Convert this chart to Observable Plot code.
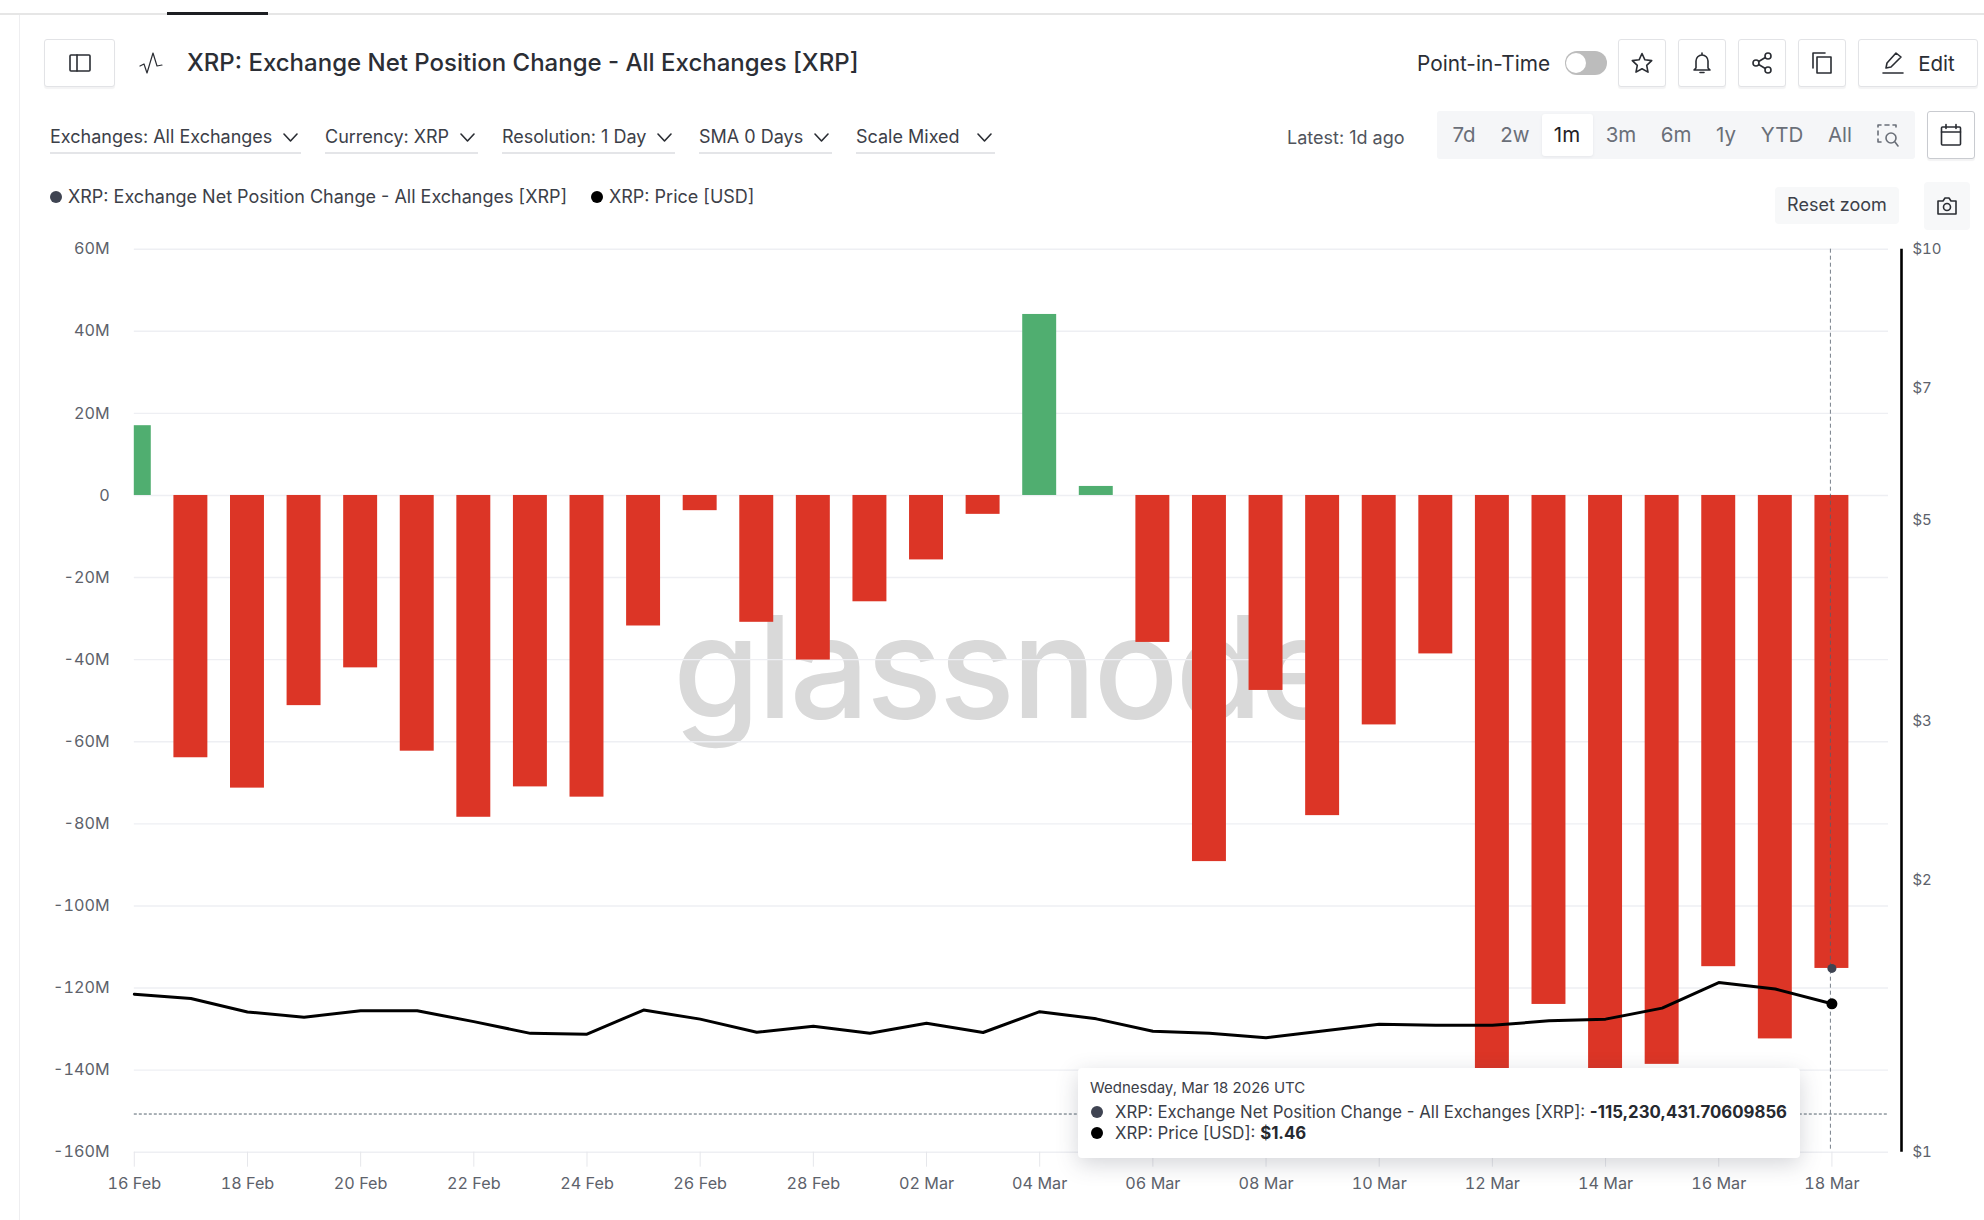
<!DOCTYPE html>
<html><head><meta charset="utf-8">
<script src="https://cdn.jsdelivr.net/npm/d3@7"></script>
<script src="https://cdn.jsdelivr.net/npm/@observablehq/plot@0.6"></script>
<style>
html,body{margin:0;padding:0;background:#fff;width:1984px;height:1220px;overflow:hidden;font-family:Inter,sans-serif;color:#30343b}
.a{position:absolute;white-space:nowrap}
.btn{position:absolute;box-sizing:border-box;border:1px solid #e2e3e6;border-radius:3px;background:#fff;box-shadow:0 2px 1px #f3f3f4;display:flex;align-items:center;justify-content:center}
.dd{position:absolute;top:123px;height:29px;border-bottom:2px solid #e4e5e8;font-size:18px;line-height:28px;color:#3c4048;box-sizing:content-box;white-space:nowrap}
.dd svg{position:absolute;right:3px;top:10px}
.seg{position:absolute;top:122px;font-size:20.5px;line-height:26px;color:#6a6f78;transform:translateX(-50%)}
svg.i{fill:none;stroke:#2a2d33;stroke-width:1.6;stroke-linecap:round;stroke-linejoin:round}
#chart{position:absolute;left:0;top:230px;width:1984px;height:990px;z-index:2}
#chart svg{display:block;background:transparent}
#wm{position:absolute;left:673px;top:582px;font-size:141px;line-height:170px;letter-spacing:-3.2px;color:#d9d9d9;z-index:1;font-family:Inter,sans-serif;font-weight:500}
#tip{position:absolute;left:1078px;top:1068px;width:722px;height:90px;background:#fff;border-radius:4px;box-shadow:0 6px 22px rgba(60,65,80,.22);z-index:3;font-size:16.8px;color:#3c4048}
</style></head><body>
<div class="a" style="left:0;top:13px;width:1984px;height:2px;background:#e6e6e6"></div>
<div class="a" style="left:167px;top:12px;width:101px;height:3px;background:#1c1e22"></div>
<div class="a" style="left:19px;top:15px;width:1px;height:1205px;background:#eeeef0"></div>

<div class="btn" style="left:44px;top:39px;width:71px;height:48px"><svg class="i" width="22" height="18" viewBox="0 0 22 18"><rect x="1" y="1" width="20" height="16" rx="1"/><path d="M8 1v16"/></svg></div>
<svg class="i a" style="left:139px;top:51px;stroke-width:1.2" width="25" height="24" viewBox="0 0 25 24"><path d="M1 15l4-2 3 9 6-20 4 13 5-1"/></svg>
<div class="a" style="left:187px;top:46px;font-size:24px;line-height:34px;font-weight:500;color:#2b2e35">XRP: Exchange Net Position Change - All Exchanges [XRP]</div>

<div class="dd" style="left:50px;width:251px">Exchanges: All Exchanges<svg class="i" width="15" height="9" viewBox="0 0 15 9"><path d="M1 1l6.500 7 6.500-7"/></svg></div>
<div class="dd" style="left:325px;width:153px">Currency: XRP<svg class="i" width="15" height="9" viewBox="0 0 15 9"><path d="M1 1l6.500 7 6.500-7"/></svg></div>
<div class="dd" style="left:502px;width:173px">Resolution: 1 Day<svg class="i" width="15" height="9" viewBox="0 0 15 9"><path d="M1 1l6.500 7 6.500-7"/></svg></div>
<div class="dd" style="left:699px;width:133px">SMA 0 Days<svg class="i" width="15" height="9" viewBox="0 0 15 9"><path d="M1 1l6.500 7 6.500-7"/></svg></div>
<div class="dd" style="left:856px;width:139px">Scale Mixed<svg class="i" width="15" height="9" viewBox="0 0 15 9"><path d="M1 1l6.500 7 6.500-7"/></svg></div>

<div class="a" style="left:50px;top:191px;width:12px;height:12px;border-radius:50%;background:#3f4452"></div>
<div class="a" style="left:68px;top:184px;font-size:18px;line-height:26px;color:#3c4048">XRP: Exchange Net Position Change - All Exchanges [XRP]</div>
<div class="a" style="left:591px;top:191px;width:12px;height:12px;border-radius:50%;background:#000"></div>
<div class="a" style="left:609px;top:184px;font-size:18px;line-height:26px;color:#3c4048">XRP: Price [USD]</div>

<div class="a" style="left:1417px;top:51px;font-size:20.8px;line-height:26px;color:#2b2e35">Point-in-Time</div>
<div class="a" style="left:1565px;top:51px;width:42px;height:24px;border-radius:12px;background:#bcbcbc"></div>
<div class="a" style="left:1566px;top:53px;width:20px;height:20px;border-radius:50%;background:#fff"></div>
<div class="btn" style="left:1618px;top:39px;width:48px;height:48px"><svg class="i" width="24" height="24" viewBox="0 0 24 24"><path d="M12 2.500l2.900 6.300 6.800.8-5 4.700 1.300 6.800-6-3.400-6 3.400 1.300-6.800-5-4.700 6.800-.8z"/></svg></div>
<div class="btn" style="left:1678px;top:39px;width:48px;height:48px"><svg class="i" width="24" height="24" viewBox="0 0 24 24"><path d="M6 17V10a6 6 0 0 1 12 0v7l2 2H4zM10 21.500h4M12 2v2"/></svg></div>
<div class="btn" style="left:1738px;top:39px;width:48px;height:48px"><svg class="i" width="24" height="24" viewBox="0 0 24 24"><circle cx="18" cy="5" r="3"/><circle cx="6" cy="12" r="3"/><circle cx="18" cy="19" r="3"/><path d="M8.700 10.500l6.600-4M8.700 13.500l6.600 4"/></svg></div>
<div class="btn" style="left:1798px;top:39px;width:48px;height:48px"><svg class="i" width="24" height="24" viewBox="0 0 24 24"><rect x="7" y="6" width="14" height="16"/><path d="M3 17V2h12"/></svg></div>
<div class="btn" style="left:1858px;top:39px;width:120px;height:48px;font-size:20.5px;color:#2b2e35"><svg class="i" style="margin-right:13px" width="24" height="24" viewBox="0 0 24 24"><path d="M5 17l1-5L15 2l5 4-10 10zM2 22h20"/></svg>Edit</div>

<div class="a" style="left:1287px;top:125px;font-size:18px;line-height:26px;color:#50545c">Latest: 1d ago</div>
<div class="a" style="left:1437px;top:111px;width:478px;height:48px;background:#f5f6f8;border-radius:3px"></div>
<div class="a" style="left:1542px;top:114px;width:51px;height:42px;background:#fff;border-radius:3px;box-shadow:0 1px 3px #e5e6ea"></div>
<div id="segs"></div>
<svg class="i a" style="left:1876px;top:122px;stroke:#6a6f78" width="24" height="26" viewBox="0 0 24 26"><path d="M2 5V3h3M9 3h4M17 3h3v2M2 9v4M2 17v3h3"/><circle cx="15" cy="16" r="5"/><path d="M19 20l3 4"/></svg>
<div class="btn" style="left:1927px;top:111px;width:48px;height:48px;border-color:#c9cbd0"><svg class="i" width="24" height="24" viewBox="0 0 24 24"><rect x="2.500" y="4" width="19" height="18" rx="1"/><path d="M2.500 9h19M7 1.500v4M17 1.500v4"/></svg></div>

<div class="a" style="left:1775px;top:187px;width:124px;height:37px;background:#f7f8f9;border-radius:4px;font-size:18px;line-height:36px;text-align:center;color:#3c4048">Reset zoom</div>
<div class="a" style="left:1924px;top:182px;width:46px;height:48px;background:#f7f8f9;border-radius:4px;display:flex;align-items:center;justify-content:center"><svg class="i" width="22" height="20" viewBox="0 0 22 20"><path d="M2 5h5l2-3h4l2 3h5v13H2z"/><circle cx="11" cy="11" r="3.500"/></svg></div>

<div id="wm">glassnode</div>
<div id="chart"></div>

<div id="tip">
<div class="a" style="left:12px;top:10px;font-size:15px;line-height:20px;color:#3c4048">Wednesday, Mar 18 2026 UTC</div>
<div class="a" style="left:13px;top:38px;width:12px;height:12px;border-radius:50%;background:#3f4452"></div>
<div class="a" style="left:37px;top:33px;line-height:22px">XRP: Exchange Net Position Change - All Exchanges [XRP]: <b style="font-weight:700;color:#26292f">-115,230,431.70609856</b></div>
<div class="a" style="left:13px;top:59px;width:12px;height:12px;border-radius:50%;background:#000"></div>
<div class="a" style="left:37px;top:54px;line-height:22px">XRP: Price [USD]: <b style="font-weight:700;color:#26292f">$1.46</b></div>
</div>

<script>
const dates = ["2026-02-16","2026-02-17","2026-02-18","2026-02-19","2026-02-20","2026-02-21","2026-02-22","2026-02-23","2026-02-24","2026-02-25","2026-02-26","2026-02-27","2026-02-28","2026-03-01","2026-03-02","2026-03-03","2026-03-04","2026-03-05","2026-03-06","2026-03-07","2026-03-08","2026-03-09","2026-03-10","2026-03-11","2026-03-12","2026-03-13","2026-03-14","2026-03-15","2026-03-16","2026-03-17","2026-03-18"];
const netChangeM = [17.0,-63.9,-71.3,-51.2,-42.0,-62.3,-78.4,-71.0,-73.5,-31.8,-3.7,-30.9,-40.1,-25.9,-15.7,-4.6,44.1,2.2,-35.8,-89.2,-47.5,-78.0,-55.9,-38.6,-148,-124.0,-146,-138.6,-114.8,-132.4,-115.23];
const priceUsd = [1.496,1.480,1.430,1.411,1.434,1.434,1.395,1.354,1.351,1.437,1.404,1.358,1.379,1.354,1.389,1.357,1.431,1.405,1.361,1.354,1.339,1.362,1.386,1.382,1.382,1.398,1.404,1.444,1.541,1.516,1.46];
const yTicks = [60,40,20,0,-20,-40,-60,-80,-100,-120,-140,-160];
const priceTicks = [10,7,5,3,2,1];
const xTicks = ["2026-02-16","2026-02-18","2026-02-20","2026-02-22","2026-02-24","2026-02-26","2026-02-28","2026-03-02","2026-03-04","2026-03-06","2026-03-08","2026-03-10","2026-03-12","2026-03-14","2026-03-16","2026-03-18"];
const ranges = ["7d","2w","1m","3m","6m","1y","YTD","All"];
const rangeCentres = [1464,1515,1567,1621,1676,1726,1782,1840];
const cursorY = -150.7;

document.getElementById("segs").innerHTML = ranges.map((r,i)=>`<div class="seg" style="left:${rangeCentres[i]}px;${r==="1m"?"color:#1f2227;":""}">${r}</div>`).join("");

const DAY = 864e5;
const parse = d3.utcParse("%Y-%m-%d");
const rows = dates.map((d,i)=>({date:parse(d),net:netChangeM[i],price:priceUsd[i]}));
const priceY = d3.scaleLog().domain([1,10]).range([-160,60]);
const fmtY = v => v===0 ? "0" : `${v}M`;
const last = rows[rows.length-1];
const xEnd = new Date(+parse("2026-03-19"));

const chart = Plot.plot({
  width:1984, height:990,
  marginLeft:133.8, marginRight:96, marginTop:18.7, marginBottom:68.3,
  style:{background:"transparent",fontFamily:"Inter, sans-serif",fontSize:"16.2px"},
  x:{type:"utc",domain:[parse(dates[0]),xEnd],label:null},
  y:{domain:[-160,60],label:null},
  marks:[
    Plot.ruleY(yTicks,{stroke:"#eeeff3",strokeWidth:1.4}),
    Plot.rect(rows.filter(d=>d.net>=0),{x1:d=>new Date(+d.date-0.3*DAY),x2:d=>new Date(+d.date+0.3*DAY),y1:0,y2:"net",fill:"#50ae70",clip:true}),
    Plot.rect(rows.filter(d=>d.net<0),{x1:d=>new Date(+d.date-0.3*DAY),x2:d=>new Date(+d.date+0.3*DAY),y1:0,y2:"net",fill:"#dc3526",clip:true}),
    Plot.ruleY([cursorY],{stroke:"#56646f",strokeWidth:1,strokeDasharray:"3,2"}),
    Plot.ruleX([last.date],{dx:-1.5,stroke:"#56606c",strokeWidth:0.8,strokeDasharray:"4,3"}),
    Plot.line(rows,{x:"date",y:d=>priceY(d.price),stroke:"#000",strokeWidth:3,curve:"linear"}),
    Plot.dot([last],{x:"date",y:"net",r:4.5,fill:"#3f4452"}),
    Plot.dot([last],{x:"date",y:d=>priceY(d.price),r:5.5,fill:"#000"}),
    Plot.ruleX([xEnd],{dx:13,y1:-160,y2:60,stroke:"#000",strokeWidth:2.6}),
    Plot.axisY({anchor:"left",ticks:yTicks,tickFormat:fmtY,tickSize:0,tickPadding:24.6,fill:"#5d626b",dy:0}),
    Plot.axisY({anchor:"right",ticks:priceTicks.map(p=>priceY(p)),tickFormat:(v)=>"$"+Math.round(priceY.invert(v)),tickSize:0,tickPadding:24,fill:"#5d626b",dy:-0.5,fontSize:15}),
    Plot.axisX({ticks:xTicks.map(parse),tickFormat:d3.utcFormat("%d %b"),tickSize:15,tickPadding:10,stroke:"#e6e7eb",fill:"#5d626b"})
  ]
});
document.getElementById("chart").appendChild(chart);
</script>
</body></html>
